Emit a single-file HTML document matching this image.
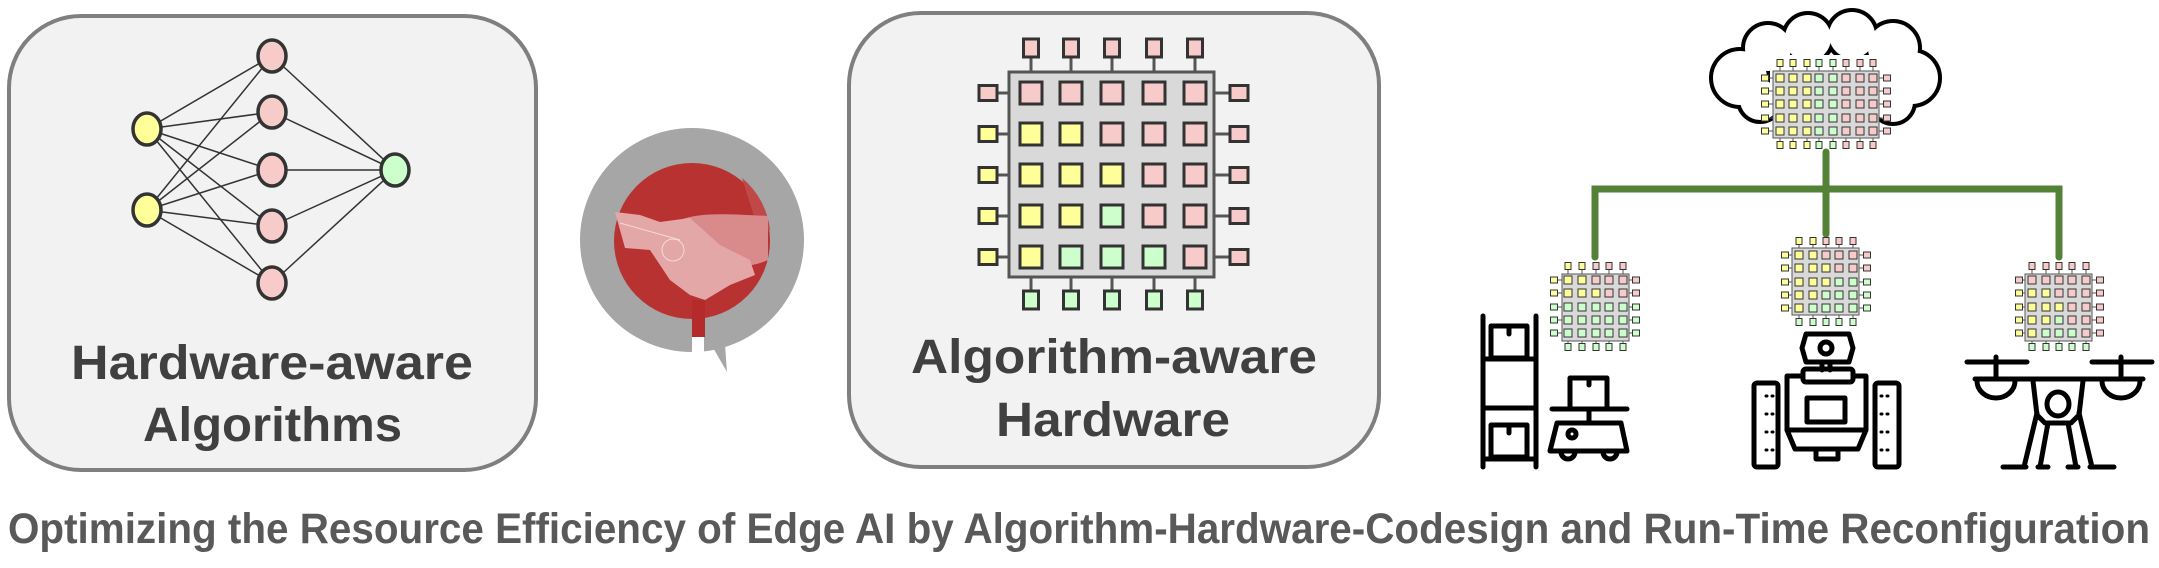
<!DOCTYPE html>
<html><head><meta charset="utf-8">
<style>
html,body{margin:0;padding:0;background:#fff;}
svg{display:block;}
text{font-family:"Liberation Sans",sans-serif;font-weight:bold;}
</style></head>
<body>
<svg id="s" width="2159" height="568" viewBox="0 0 2159 568" xmlns="http://www.w3.org/2000/svg">
<rect x="0" y="0" width="2159" height="568" fill="#fff"/>
<rect x="9" y="16" width="527" height="454" rx="72" fill="#f2f2f2" stroke="#7f7f7f" stroke-width="4"/>
<rect x="849" y="13" width="530" height="454" rx="72" fill="#f2f2f2" stroke="#7f7f7f" stroke-width="4"/>
<text x="71" y="379" textLength="402" lengthAdjust="spacingAndGlyphs" font-size="48" fill="#404040">Hardware-aware</text>
<text x="143" y="441" textLength="259" lengthAdjust="spacingAndGlyphs" font-size="48" fill="#404040">Algorithms</text>
<text x="911" y="373" textLength="406" lengthAdjust="spacingAndGlyphs" font-size="48" fill="#404040">Algorithm-aware</text>
<text x="996" y="436" textLength="234" lengthAdjust="spacingAndGlyphs" font-size="48" fill="#404040">Hardware</text>
<text x="8" y="543" textLength="2142" lengthAdjust="spacingAndGlyphs" font-size="43" fill="#595959">Optimizing the Resource Efficiency of Edge AI by Algorithm-Hardware-Codesign and Run-Time Reconfiguration</text>
<g id="nn" stroke="#333" stroke-width="1.5"></g>
<circle cx="692" cy="240" r="112" fill="#a6a6a6"/>
<polygon points="692,330 704,330 704,362 692,362" fill="#fff"/>
<polygon points="704,332 727,372 724,330" fill="#a6a6a6"/>
<circle cx="692" cy="241" r="78" fill="#b83232"/>
<polygon points="692,300 705,300 705,337 692,337" fill="#b52a2a"/>
<path d="M742,178 A78 78 0 0 1 770,230 L760,235 Z" fill="#c14848"/>
<path d="M680,220 C700,212 730,214 768,216 L768,260 C745,270 730,265 715,262 Z" fill="#d98a8a"/>
<path d="M615,212 L640,215 L660,222 L690,218 L720,245 L750,260 L755,275 L730,285 L705,300 L690,295 L670,280 L650,250 L625,248 Z" fill="#e4a7a7"/>
<circle cx="673" cy="250" r="11" fill="none" stroke="#f5dada" stroke-width="1"/>
<path d="M620,223 L680,240" stroke="#f5dada" stroke-width="1"/>
<g id="chips"></g>
<g stroke="#538135" stroke-width="7" stroke-linecap="round" fill="none">
<path d="M1826,152 V234"/>
<path d="M1595,257 V189 H2059 V257"/>
</g>
<g id="cloud"></g>
<g id="chips2"></g>
<g stroke="#000" stroke-width="5" fill="none" stroke-linecap="round" stroke-linejoin="round">
<path d="M1483,316 V467 M1536,316 V467 M1483,359 H1536 M1483,408 H1536 M1483,459 H1536"/>
<rect x="1491" y="326" width="36" height="32"/>
<path d="M1509,326 V334"/>
<rect x="1491" y="425" width="36" height="32"/>
<path d="M1509,425 V433"/>
<rect x="1570" y="378" width="37" height="31"/>
<path d="M1589,378 V385"/>
<path d="M1552,409 H1627 M1589,409 V423"/>
<path d="M1557,423 H1621 L1627,451 H1550 Z"/>
<circle cx="1572" cy="434" r="4"/>
<path d="M1561,452 A7 7 0 0 0 1575,452 M1603,452 A7 7 0 0 0 1617,452"/>
<polygon points="1806,334 1849,334 1853,348 1849,362 1806,362 1802,348"/>
<circle cx="1826" cy="348" r="6"/>
<path d="M1822,362 V370 M1830,362 V370"/>
<rect x="1803" y="369" width="50" height="13" rx="3"/>
<path d="M1803,376 H1787 V430 H1866 V376 H1853"/>
<rect x="1807" y="398" width="38" height="24"/>
<path d="M1787,430 L1795,449 H1858 L1866,430"/>
<rect x="1816" y="449" width="22" height="10"/>
<rect x="1754" y="383" width="24" height="84" rx="3"/>
<rect x="1875" y="383" width="24" height="84" rx="3"/>
<path d="M1766,396 h1 M1772,396 h1 M1766,414 h1 M1772,414 h1 M1766,432 h1 M1772,432 h1 M1766,450 h1 M1772,450 h1 M1881,396 h1 M1887,396 h1 M1881,414 h1 M1887,414 h1 M1881,432 h1 M1887,432 h1 M1881,450 h1 M1887,450 h1" stroke-width="3"/>
<path d="M1967,362 H2027 M1996,357 V379 M2092,362 H2152 M2121,357 V379 M1975,379 H2143"/>
<path d="M1977,381 A19 17 0 0 0 2015,381 M2102,381 A19 17 0 0 0 2140,381"/>
<path d="M2033,381 L2037,415 L2045,423 H2071 L2079,415 L2083,381"/>
<ellipse cx="2058" cy="404" rx="11" ry="12"/>
<path d="M2037,413 L2024,467 M2079,413 L2092,467 M2048,423 L2040,467 M2068,423 L2076,467"/>
<path d="M2003,467 H2026 M2038,467 H2048 M2068,467 H2078 M2090,467 H2114"/>
</g>
</svg>
<script>
var NS="http://www.w3.org/2000/svg";
function el(p,t,a){var e=document.createElementNS(NS,t);for(var k in a)e.setAttribute(k,a[k]);p.appendChild(e);return e;}
var C={P:"#f8cbcb",Y:"#ffff99",G:"#ccffcc"};
var nn=document.getElementById("nn");
var inp=[[147,129],[147,210]],hid=[[272,56],[272,112],[272,170],[272,226],[272,283]],out=[395,170];
inp.forEach(function(a){hid.forEach(function(b){el(nn,"line",{x1:a[0],y1:a[1],x2:b[0],y2:b[1]});});});
hid.forEach(function(b){el(nn,"line",{x1:b[0],y1:b[1],x2:out[0],y2:out[1]});});
inp.forEach(function(a){el(nn,"ellipse",{cx:a[0],cy:a[1],rx:14,ry:16,fill:C.Y,"stroke-width":3.5});});
hid.forEach(function(a){el(nn,"ellipse",{cx:a[0],cy:a[1],rx:14,ry:16,fill:C.P,"stroke-width":3.5});});
el(nn,"ellipse",{cx:out[0],cy:out[1],rx:14,ry:16,fill:C.G,"stroke-width":3.5});
function chip(g,o){
 var xs=o.xs,ys=o.ys,c=o.cell,p=o.pin,sw=o.sw;
 el(g,"rect",{x:o.x0,y:o.y0,width:o.x1-o.x0,height:o.y1-o.y0,fill:"#d9d9d9",stroke:"#555","stroke-width":sw});
 xs.forEach(function(x,i){
  el(g,"line",{x1:x,y1:o.y0,x2:x,y2:o.pt,stroke:"#555","stroke-width":sw});
  el(g,"line",{x1:x,y1:o.y1,x2:x,y2:o.pb,stroke:"#555","stroke-width":sw});
  el(g,"rect",{x:x-p[0]/2,y:o.pt-p[1]/2,width:p[0],height:p[1],fill:C[o.top[i]],stroke:"#333","stroke-width":sw});
  el(g,"rect",{x:x-p[0]/2,y:o.pb-p[1]/2,width:p[0],height:p[1],fill:C[o.bot[i]],stroke:"#333","stroke-width":sw});
 });
 ys.forEach(function(y,j){
  el(g,"line",{x1:o.x0,y1:y,x2:o.pl,y2:y,stroke:"#555","stroke-width":sw});
  el(g,"line",{x1:o.x1,y1:y,x2:o.pr,y2:y,stroke:"#555","stroke-width":sw});
  el(g,"rect",{x:o.pl-p[1]/2,y:y-p[0]/2,width:p[1],height:p[0],fill:C[o.left[j]],stroke:"#333","stroke-width":sw});
  el(g,"rect",{x:o.pr-p[1]/2,y:y-p[0]/2,width:p[1],height:p[0],fill:C[o.right[j]],stroke:"#333","stroke-width":sw});
  xs.forEach(function(x,i){
   el(g,"rect",{x:x-c/2,y:y-c/2,width:c,height:c,fill:C[o.grid[j][i]],stroke:"#333","stroke-width":sw});
  });
 });
}
var g1=document.getElementById("chips");
chip(g1,{x0:1009,y0:72,x1:1214,y1:277,xs:[1031,1071,1112,1154,1195],ys:[93,134,175,216,257],cell:22,pin:[15,18],sw:3,
 pt:48,pb:300,pl:988,pr:1239,top:"PPPPP",bot:"GGGGG",left:"PYYYY",right:"PPPPP",
 grid:["PPPPP","YYPPP","YYYPP","YYGPP","YGGGP"]});
var cl=document.getElementById("cloud");
var circs=[[1740,78,27],[1768,48,23],[1808,38,23],[1852,35,23],[1893,48,25],[1912,78,26],[1893,102,20],[1760,100,20],[1800,104,20]];
circs.forEach(function(c){el(cl,"circle",{cx:c[0],cy:c[1],r:c[2],fill:"#fff",stroke:"#000","stroke-width":8});});
el(cl,"rect",{x:1770,y:55,width:120,height:52,fill:"#fff"});
circs.forEach(function(c){el(cl,"circle",{cx:c[0],cy:c[1],r:c[2],fill:"#fff"});});
var g2=document.getElementById("chips2");
chip(g2,{x0:1773,y0:71,x1:1879,y1:138,xs:[1780,1793,1807,1819,1833,1846,1860,1873],ys:[78,91,104,118,131],cell:8,pin:[6,7],sw:1,
 pt:63,pb:145,pl:1765,pr:1887,top:"YYYGGPPP",bot:"YYYGGPPP",left:"YYYYY",right:"PPPPP",
 grid:["YYYGGPPP","YYYGGPPP","YYYGGPPP","YYYGGPPP","YYYGGPPP"]});
chip(g2,{x0:1562,y0:274,x1:1629,y1:341,xs:[1568,1582,1596,1609,1623],ys:[280,293,307,320,333],cell:8,pin:[6,7],sw:1,
 pt:266,pb:347,pl:1554,pr:1636,top:"YYPPP",bot:"GGGGG",left:"YYGGG",right:"PPGGG",
 grid:["YYPPP","YYYPP","GGGGG","GGGGG","GGGGG"]});
chip(g2,{x0:1792,y0:248,x1:1859,y1:315,xs:[1799,1813,1826,1839,1853],ys:[255,268,282,295,308],cell:8,pin:[6,7],sw:1,
 pt:241,pb:322,pl:1785,pr:1867,top:"YYPPP",bot:"GGGGG",left:"YYYYY",right:"PPGGG",
 grid:["YYPPP","YYYPP","YYYGG","YYGGG","YGGGG"]});
chip(g2,{x0:2025,y0:274,x1:2092,y1:341,xs:[2032,2046,2059,2072,2086],ys:[280,293,307,320,333],cell:8,pin:[6,7],sw:1,
 pt:266,pb:347,pl:2019,pr:2100,top:"PPPPP",bot:"GGGGG",left:"PYYYY",right:"PPPPP",
 grid:["PPPPP","YYPPP","YYYPP","YYGPP","YGGGP"]});
</script>
</body></html>
